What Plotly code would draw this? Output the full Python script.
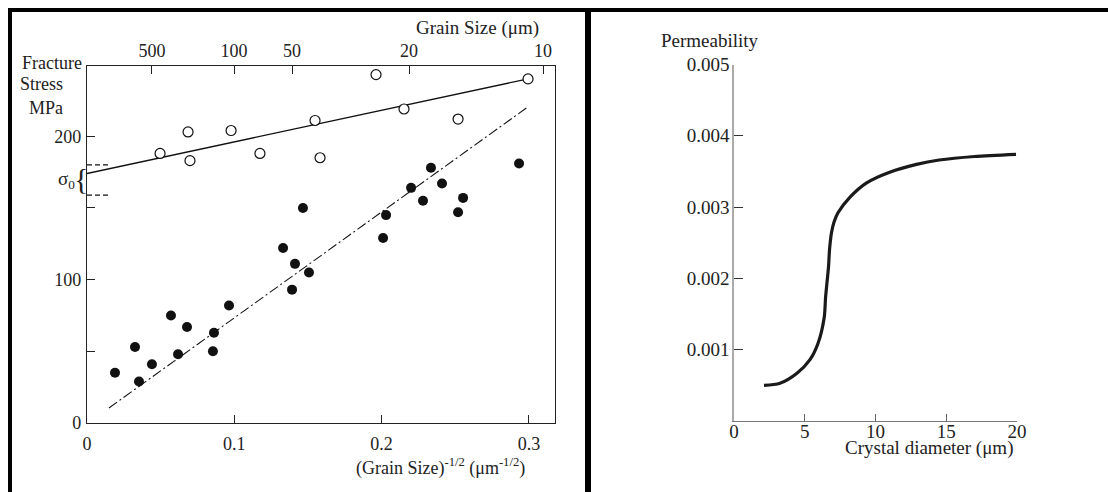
import plotly.graph_objects as go

W, H = 1108, 492

# ---------------- Left panel data ----------------
open_x = [0.0496, 0.0686, 0.0699, 0.0978, 0.1174, 0.1548, 0.1582, 0.1962, 0.2152, 0.2519, 0.2994]
open_y = [188, 203, 183, 204, 188, 211, 185, 243, 219, 212, 240]

filled_x = [0.0190, 0.0326, 0.0353, 0.0441, 0.0570, 0.0618, 0.0679, 0.0862, 0.0855, 0.0964,
            0.1331, 0.1412, 0.1392, 0.1507, 0.1466, 0.2010, 0.2030, 0.2200, 0.2281, 0.2335,
            0.2410, 0.2519, 0.2553, 0.2933]
filled_y = [35, 53, 29, 41, 75, 48, 67, 63, 50, 82,
            122, 111, 93, 105, 150, 129, 145, 164, 155, 178,
            167, 147, 157, 181]

upper_fit_x = [0.0, 0.2994]
upper_fit_y = [174, 240]
lower_fit_x = [0.0149, 0.2987]
lower_fit_y = [10.5, 220]

sigma0_levels = [180, 159]
sigma0_dash_x = [0.0, 0.0156]

x_ticks = [0, 0.1, 0.2, 0.3]
x_ticktext = ["0", "0.1", "0.2", "0.3"]
y_ticks = [0, 100, 200]
y_ticktext = ["0", "100", "200"]
y_minor_ticks = [50, 150]

grain_tick_pos = [0.0441, 0.0998, 0.1392, 0.2186, 0.3096]
grain_tick_labels = ["500", "100", "50", "20", "10"]

# ---------------- Right panel data ----------------
crystal_d = [2.12, 3.25, 4.45, 5.37, 5.94, 6.38, 6.47, 6.57, 6.68, 6.75, 6.89, 7.07, 7.35,
             8.20, 9.37, 11.0, 12.9, 14.5, 17.0, 19.93]
permeability = [0.00050, 0.00053, 0.00067, 0.00086, 0.00109, 0.00146, 0.00173, 0.00194, 0.00216,
                0.00240, 0.00264, 0.00279, 0.00292, 0.00314, 0.00334, 0.00349, 0.00360,
                0.00366, 0.00371, 0.00374]
perm_ticks = [0.001, 0.002, 0.003, 0.004, 0.005]
perm_ticktext = ["0.001", "0.002", "0.003", "0.004", "0.005"]
d_ticks = [0, 5, 10, 15, 20]

FONT = "Liberation Serif"


def px(x):
    return x / W


def py(y):
    return 1 - y / H


fig = go.Figure()

# left panel traces
fig.add_trace(go.Scatter(x=upper_fit_x, y=upper_fit_y, mode="lines",
                         line=dict(color="#111", width=1.3), xaxis="x", yaxis="y", showlegend=False))
fig.add_trace(go.Scatter(x=lower_fit_x, y=lower_fit_y, mode="lines",
                         line=dict(color="#111", width=1.1, dash="10px,3px,2px,3px"),
                         xaxis="x", yaxis="y", showlegend=False))
for lvl in sigma0_levels:
    fig.add_trace(go.Scatter(x=sigma0_dash_x, y=[lvl, lvl], mode="lines",
                             line=dict(color="#111", width=1.2, dash="5px,3px"),
                             xaxis="x", yaxis="y", showlegend=False))
fig.add_trace(go.Scatter(x=open_x, y=open_y, mode="markers",
                         marker=dict(symbol="circle", size=10, color="white",
                                     line=dict(color="#111", width=1.2)),
                         xaxis="x", yaxis="y", showlegend=False))
fig.add_trace(go.Scatter(x=filled_x, y=filled_y, mode="markers",
                         marker=dict(symbol="circle", size=10, color="#111",
                                     line=dict(color="#111", width=0)),
                         xaxis="x", yaxis="y", showlegend=False))
# invisible trace to activate the top axis
fig.add_trace(go.Scatter(x=[grain_tick_pos[0]], y=[open_y[0]], mode="markers",
                         marker=dict(opacity=0), xaxis="x3", yaxis="y", showlegend=False,
                         hoverinfo="skip"))

# right panel trace
fig.add_trace(go.Scatter(x=crystal_d, y=permeability, mode="lines",
                         line=dict(color="#1a1a1a", width=3.2, shape="spline", smoothing=0.8),
                         xaxis="x2", yaxis="y2", showlegend=False))

left_xdom = [px(87), px(555)]
left_ydom = [py(423), py(66)]
right_xdom = [px(734), px(1017)]
right_ydom = [py(421), py(64.5)]

tick_font_left = dict(family=FONT, size=18, color="#222")
tick_font_right = dict(family=FONT, size=19, color="#222")

fig.update_layout(
    width=W, height=H,
    margin=dict(l=0, r=0, t=0, b=0, autoexpand=False),
    paper_bgcolor="white", plot_bgcolor="white",
    xaxis=dict(domain=left_xdom, range=[0, 0.3177], anchor="y", automargin=False,
               tickvals=x_ticks, ticktext=x_ticktext, ticks="inside", ticklen=8,
               tickcolor="#222", showline=True, linecolor="#222", linewidth=1.3,
               mirror=True, showgrid=False, zeroline=False, tickfont=tick_font_left,
               ticklabelstandoff=4),
    yaxis=dict(domain=left_ydom, range=[0, 249], anchor="x", automargin=False,
               tickvals=y_ticks, ticktext=y_ticktext, ticks="inside", ticklen=8,
               tickcolor="#222", showline=True, linecolor="#222", linewidth=1.3,
               minor=dict(tickvals=y_minor_ticks, ticks="inside", ticklen=8, tickcolor="#222"),
               mirror=True, showgrid=False, zeroline=False, tickfont=tick_font_left,
               ticklabelstandoff=1),
    xaxis3=dict(overlaying="x", side="top", anchor="y", range=[0, 0.3177], automargin=False,
                tickvals=grain_tick_pos, ticktext=grain_tick_labels, ticks="inside",
                ticklen=8, tickcolor="#222", showline=False, showgrid=False, zeroline=False,
                tickfont=tick_font_left, ticklabelstandoff=4),
    xaxis2=dict(domain=right_xdom, range=[0, 20], anchor="y2", automargin=False,
                tickvals=d_ticks, ticks="inside", ticklen=7, tickcolor="#666",
                showline=True, linecolor="#777", linewidth=1.3, showgrid=False,
                zeroline=False, tickfont=tick_font_right, ticklabelstandoff=-7),
    yaxis2=dict(domain=right_ydom, range=[0, 0.005], anchor="x2", automargin=False,
                tickvals=perm_ticks, ticktext=perm_ticktext, ticks="inside", ticklen=9,
                tickcolor="#333", showline=True, linecolor="#aaa", linewidth=1.5,
                showgrid=False, zeroline=False, tickfont=tick_font_right,
                ticklabelstandoff=-1),
)

# text annotations
ann = [
    dict(text="Grain Size (μm)", x=px(477), y=py(28), size=19),
    dict(text="Fracture", x=px(84), y=py(63), size=18, xanchor="right"),
    dict(text="Stress", x=px(65), y=py(84), size=18, xanchor="right"),
    dict(text="MPa", x=px(65), y=py(108), size=18, xanchor="right"),
    dict(text="σ<sub>0</sub>", x=px(66), y=py(180), size=19),
    dict(text="{", x=px(81), y=py(179), size=30),
    dict(text="(Grain Size)<sup>-1/2</sup> (μm<sup>-1/2</sup>)", x=px(440), y=py(467), size=18),
    dict(text="Permeability", x=px(710), y=py(40), size=19),
    dict(text="Crystal diameter (μm)", x=px(929), y=py(448), size=19),
]
for a in ann:
    fig.add_annotation(text=a["text"], x=a["x"], y=a["y"], xref="paper", yref="paper",
                       showarrow=False, xanchor=a.get("xanchor", "center"), yanchor="middle",
                       font=dict(family=FONT, size=a["size"], color="#222"))

# thick frame lines
frame = [
    (8, 10, 1108, 10, 4),
    (10, 8, 10, 492, 4),
    (588, 8, 588, 492, 6),
]
for x0, y0, x1, y1, w in frame:
    fig.add_shape(type="line", xref="paper", yref="paper", x0=px(x0), y0=py(y0),
                  x1=px(x1), y1=py(y1), line=dict(color="black", width=w))

fig.write_html("out.html", config={"displayModeBar": False},
               post_script="document.body.style.margin='0';document.body.style.overflow='hidden';")
